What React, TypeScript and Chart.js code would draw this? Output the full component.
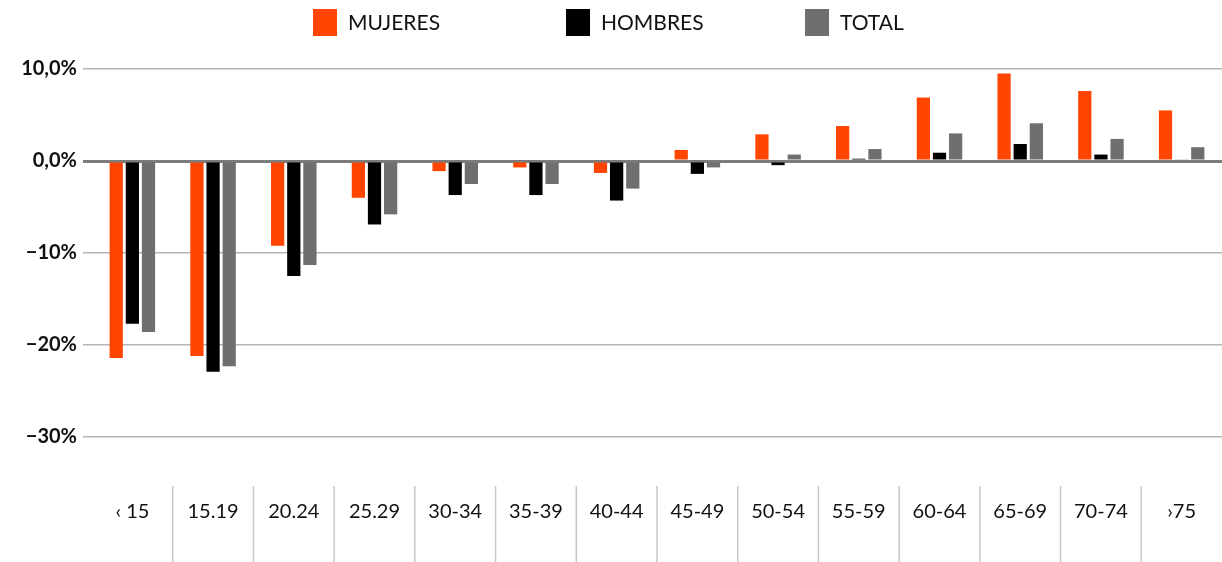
import React, { useEffect, useRef } from 'react';
import { Chart, registerables } from 'chart.js';

Chart.register(...registerables);

const FONT = 'Lato, "Open Sans", sans-serif';

const categories = ['‹ 15', '15.19', '20.24', '25.29', '30-34', '35-39', '40-44', '45-49', '50-54', '55-59', '60-64', '65-69', '70-74', '›75'];
const seriesNames = ['MUJERES', 'HOMBRES', 'TOTAL'];
const mujeres = [-21.4, -21.2, -9.2, -4.0, -1.1, -0.7, -1.3, 1.2, 2.9, 3.8, 6.9, 9.5, 7.6, 5.5];
const hombres = [-17.7, -22.9, -12.5, -6.9, -3.7, -3.7, -4.3, -1.4, -0.45, 0.25, 0.9, 1.85, 0.7, 0.15];
const total = [-18.6, -22.3, -11.3, -5.8, -2.5, -2.5, -3.0, -0.7, 0.7, 1.3, 3.0, 4.1, 2.4, 1.5];
const yTickValues = [10, 0, -10, -20, -30];
const yTickLabels = ['10,0%', '0,0%', '−10%', '−20%', '−30%'];

const COLORS = ['#ff4500', '#000000', '#6f6f6f'];
const LEGEND_X = [313, 566, 805];

const legendPlugin = {
  id: 'customLegend',
  afterDraw(chart: any) {
    const ctx = chart.ctx;
    ctx.save();
    ctx.font = `21px ${FONT}`;
    ctx.textBaseline = 'middle';
    ctx.textAlign = 'left';
    chart.data.datasets.forEach((ds: any, i: number) => {
      const x = LEGEND_X[i];
      ctx.fillStyle = ds.backgroundColor;
      ctx.fillRect(x, 9, 24, 27);
      ctx.fillStyle = '#111';
      ctx.fillText(ds.label, x + 35, 23);
    });
    ctx.restore();
  },
};

const separatorPlugin = {
  id: 'separators',
  afterDraw(chart: any) {
    const ctx = chart.ctx;
    const xs = chart.scales.x;
    ctx.save();
    ctx.strokeStyle = '#c8c8c8';
    ctx.lineWidth = 1.5;
    for (let i = 0; i < categories.length - 1; i++) {
      const x = (xs.getPixelForValue(i) + xs.getPixelForValue(i + 1)) / 2;
      ctx.beginPath();
      ctx.moveTo(x, 486);
      ctx.lineTo(x, 562);
      ctx.stroke();
    }
    ctx.restore();
  },
};

export default function App() {
  const ref = useRef<HTMLCanvasElement>(null);
  useEffect(() => {
    if (!ref.current) return;
    const chart = new Chart(ref.current, {
      type: 'bar',
      data: {
        labels: categories,
        datasets: [mujeres, hombres, total].map((d, i) => ({
          label: seriesNames[i],
          data: d,
          backgroundColor: COLORS[i],
          borderWidth: 0,
          categoryPercentage: 0.6,
          barPercentage: 0.82,
        })),
      },
      options: {
        animation: false,
        responsive: true,
        maintainAspectRatio: false,
        layout: { padding: { top: 69, right: 0, left: 0, bottom: 0 } },
        plugins: { legend: { display: false }, tooltip: { enabled: false } },
        scales: {
          x: {
            grid: { display: false, drawTicks: true, tickLength: 58 },
            border: { display: false },
            ticks: {
              padding: 5,
              color: '#111',
              font: { family: FONT, size: 20 },
              maxRotation: 0,
              autoSkip: false,
            },
            afterFit(scale: any) {
              scale.height = 125;
              scale.paddingLeft = 0;
              scale.paddingRight = 0;
            },
          },
          y: {
            min: -30,
            max: 10,
            afterBuildTicks(scale: any) {
              scale.ticks = yTickValues.map((v) => ({ value: v }));
            },
            grid: {
              color: (c: any) => (c.tick && c.tick.value === 0 ? '#7c7c7c' : '#b5b5b5'),
              lineWidth: (c: any) => (c.tick && c.tick.value === 0 ? 3 : 1.5),
              tickLength: 9,
            },
            border: { display: false },
            ticks: {
              padding: 6,
              color: '#111',
              font: { family: FONT, size: 20, weight: 'bold' },
              callback: (v: any) => {
                const i = yTickValues.indexOf(Number(v));
                return i >= 0 ? yTickLabels[i] : '';
              },
            },
            afterFit(scale: any) {
              scale.width = 92;
            },
          },
        },
      },
      plugins: [legendPlugin, separatorPlugin],
    });
    return () => chart.destroy();
  }, []);
  return (
    <div style={{ position: 'fixed', left: 0, top: 0, width: 1222, height: 562, background: '#fff' }}>
      <canvas ref={ref} />
    </div>
  );
}
